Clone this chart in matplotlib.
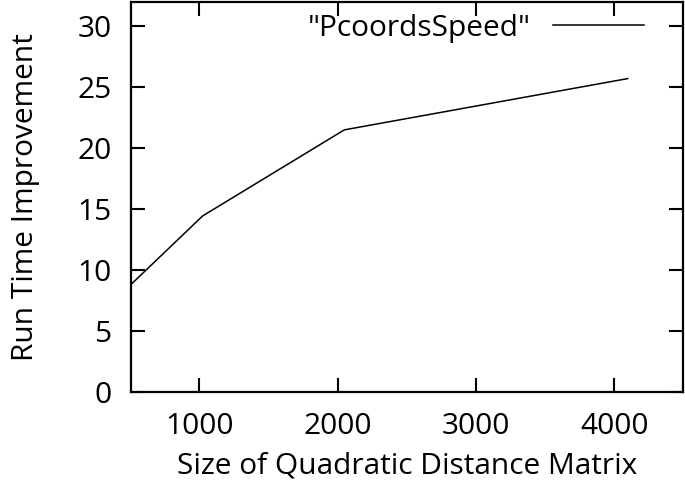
import matplotlib
matplotlib.use("Agg")
import matplotlib.pyplot as plt

# matrix size vs speed-up
sizes = [512, 1024, 2048, 4096]
speedup = [8.9, 14.45, 21.5, 25.7]
series_label = '"PcoordsSpeed"'

xticks = [1000, 2000, 3000, 4000]
yticks = [0, 5, 10, 15, 20, 25, 30]

plt.rcParams['font.family'] = ['Open Sans', 'DejaVu Sans']
plt.rcParams['font.size'] = 21.5

fig = plt.figure(figsize=(6.85, 4.93), dpi=100)
ax = fig.add_axes([131 / 685, (493 - 392.3) / 493, (682.7 - 131) / 685, (392.3 - 1.7) / 493])

ax.plot(sizes, speedup, color='black', linewidth=1.1, label=series_label)

ax.set_xlim(506, 4494)
ax.set_ylim(0, 32)
ax.set_xticks(xticks)
ax.set_yticks(yticks)
ax.tick_params(direction='in', length=10, width=1.5, top=True, right=True)
ax.tick_params(axis='y', pad=14)
ax.tick_params(axis='x', pad=14)
for s in ax.spines.values():
    s.set_linewidth(1.6)

ax.set_xlabel('Size of Quadratic Distance Matrix', labelpad=8)
ax.set_ylabel('Run Time Improvement', labelpad=27)

leg = ax.legend(loc='upper right', bbox_to_anchor=(0.9516, 1.0), frameon=False,
                markerfirst=False, handlelength=3.05, borderaxespad=0.0,
                handletextpad=0.74)

fig.savefig('out.png', dpi=100)
